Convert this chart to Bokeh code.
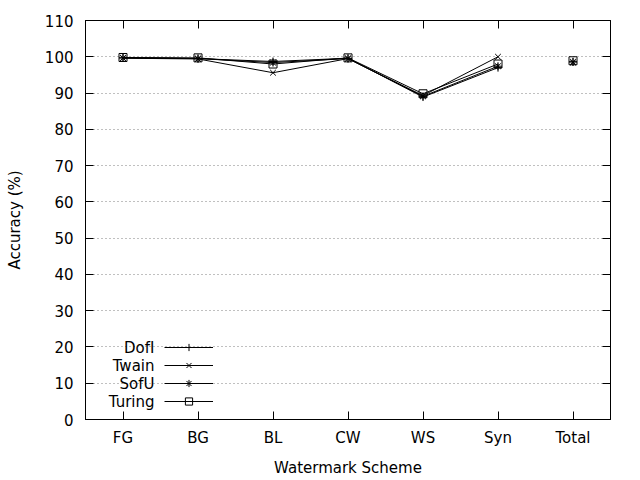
from bokeh.plotting import figure
from bokeh.models import Range1d, LinearAxis, FixedTicker, Legend, LegendItem, Label
from bokeh.embed import file_html
from bokeh.resources import INLINE

# data
schemes = ["FG", "BG", "BL", "CW", "WS", "Syn", "Total"]
dofi = [99.7, 99.5, 98.7, 99.6, 88.9, 97.0, 98.6]
twain = [99.6, 99.4, 95.6, 99.5, 89.3, 100.0, 98.4]
sofu = [99.7, 99.5, 98.4, 99.5, 89.1, 97.4, 98.6]
turing = [99.8, 99.7, 98.0, 99.7, 89.8, 98.0, 98.9]
series_names = ["DofI", "Twain", "SofU", "Turing"]
y_ticks = [0, 10, 20, 30, 40, 50, 60, 70, 80, 90, 100, 110]

FONT = "DejaVu Sans"
FSIZE = "15px"

xpos = list(range(len(schemes)))

p = figure(x_range=Range1d(-0.5, len(schemes) - 0.5), y_range=Range1d(0, 110),
           frame_width=525, frame_height=399,
           min_border_left=85, min_border_right=30, min_border_top=20, min_border_bottom=61,
           output_backend="svg", toolbar_location=None, tools="")

p.outline_line_color = "black"
p.xgrid.grid_line_color = None
p.ygrid.ticker = FixedTicker(ticks=y_ticks)
p.ygrid.grid_line_color = "#808080"
p.ygrid.grid_line_dash = "1 3"


def style_axis(ax):
    ax.major_tick_in = 8
    ax.major_tick_out = 0
    ax.minor_tick_line_color = None
    ax.axis_line_color = "black"
    ax.major_tick_line_color = "black"
    ax.major_label_text_font = FONT
    ax.major_label_text_font_size = FSIZE
    ax.major_label_text_color = "black"
    ax.axis_label_text_font = FONT
    ax.axis_label_text_font_size = FSIZE
    ax.axis_label_text_font_style = "normal"
    ax.axis_label_text_color = "black"


p.yaxis.ticker = FixedTicker(ticks=y_ticks)
p.xaxis.ticker = FixedTicker(ticks=xpos)
p.xaxis.major_label_overrides = dict(zip(xpos, schemes))
p.yaxis.axis_label = "Accuracy (%)"
p.xaxis.axis_label = "Watermark Scheme"
style_axis(p.yaxis[0])
style_axis(p.xaxis[0])
p.yaxis.major_label_standoff = 12
p.yaxis.axis_label_standoff = 18
p.xaxis.major_label_standoff = 9
p.xaxis.axis_label_standoff = 9

# mirrored ticks on the right and top (no labels)
right = LinearAxis(ticker=FixedTicker(ticks=y_ticks),
                   major_label_overrides={t: "" for t in y_ticks})
style_axis(right)
p.add_layout(right, "right")
top = LinearAxis(ticker=FixedTicker(ticks=xpos),
                 major_label_overrides={t: "" for t in xpos})
style_axis(top)
p.add_layout(top, "above")

markers = ["cross", "x", "asterisk", "square"]
items = []
for name, vals, marker in zip(series_names, [dofi, twain, sofu, turing], markers):
    # lines connect the schemes, the Total point stands alone
    ln = p.line(xpos[:6], vals[:6], line_color="black", line_width=1)
    pts = p.scatter(xpos, vals, marker=marker, size=8, line_color="black",
                    fill_color=None, line_width=1)
    items.append(LegendItem(label=" ", renderers=[ln, pts]))

# gnuplot-style key: text on the left, sample on the right
row_h = 18
legend = Legend(items=items, location=(79, 9), glyph_width=49, glyph_height=row_h,
                label_height=row_h, label_width=1, label_standoff=0, spacing=0,
                padding=0, margin=0, label_text_font_size="1px",
                border_line_color=None, background_fill_alpha=0)
p.add_layout(legend)

n = len(series_names)
for i, name in enumerate(series_names):
    p.add_layout(Label(x=69, y=9 + row_h * (n - 1 - i) + row_h / 2,
                       x_units="screen", y_units="screen", text=name,
                       text_align="right", text_baseline="middle",
                       text_font=FONT, text_font_size=FSIZE, text_color="black"))

open("out.html", "w").write(file_html(p, INLINE))
